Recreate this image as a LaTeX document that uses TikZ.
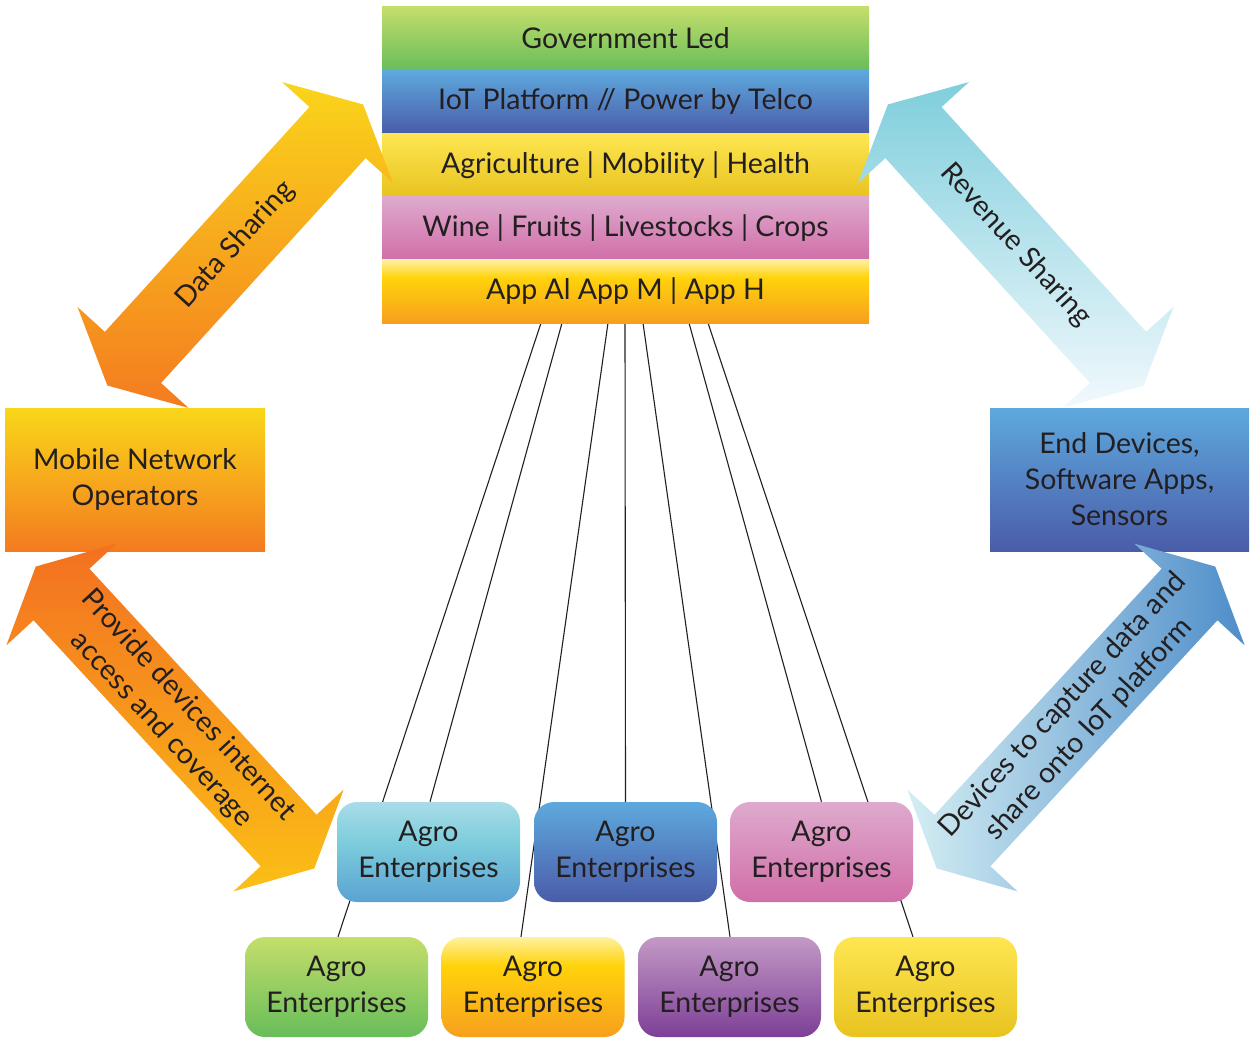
\documentclass[tikz,border=0pt]{standalone}
\usepackage{fontspec}
\setmainfont{Lato}
\usetikzlibrary{calc,backgrounds}
\definecolor{txt}{HTML}{231F20}
\definecolor{gTop}{HTML}{C4DE6B}
\definecolor{gBot}{HTML}{68BD5A}
\definecolor{bTop}{HTML}{5EA9DD}
\definecolor{bBot}{HTML}{4A5CA9}
\definecolor{yTop}{HTML}{FEE652}
\definecolor{yBot}{HTML}{E8C31F}
\definecolor{pTop}{HTML}{DEAACD}
\definecolor{pBot}{HTML}{D16EA9}
\definecolor{aTop}{HTML}{FFF1A0}
\definecolor{aMid}{HTML}{FFD30B}
\definecolor{aBot}{HTML}{F79F1D}
\definecolor{cTop}{HTML}{A9DCE7}
\definecolor{cMid}{HTML}{7DCDDC}
\definecolor{cBot}{HTML}{5AA2D3}
\definecolor{vTop}{HTML}{C399C6}
\definecolor{vBot}{HTML}{7D3F96}
\definecolor{mTop}{HTML}{F9D719}
\definecolor{mBot}{HTML}{F47B20}
\definecolor{dsTop}{HTML}{FAD51A}
\definecolor{dsBot}{HTML}{F47B20}
\definecolor{rsTop}{HTML}{7FCEDC}
\definecolor{rsBot}{HTML}{F2F9FD}
\definecolor{pdTop}{HTML}{F37021}
\definecolor{pdBot}{HTML}{FBBF16}
\definecolor{dvL}{HTML}{D4EEF3}
\definecolor{dvM}{HTML}{80CFDC}
\definecolor{dvR}{HTML}{4E8DC9}
\pgfdeclareverticalshading{appshade}{100bp}{color(0bp)=(aBot); color(25bp)=(aBot); color(61bp)=(aMid); color(75bp)=(aTop); color(100bp)=(aTop)}
\pgfdeclareverticalshading{cyanshade}{100bp}{color(0bp)=(cBot); color(25bp)=(cBot); color(55bp)=(cMid); color(75bp)=(cTop); color(100bp)=(cTop)}
\newcommand\bigfont{\fontsize{28.5}{36}\selectfont}
\newcommand\dblarrow[4]{%
  \path[#4] ($(#1)+(#2:#3)+(#2+90:38)$) -- ($(#1)+(#2:#3)+(#2+90:75)$) -- ($(#1)+(#2:#3+38)$)
   -- ($(#1)+(#2:#3)+(#2-90:75)$) -- ($(#1)+(#2:#3)+(#2-90:38)$)
   -- ($(#1)+(#2+180:#3)+(#2-90:38)$) -- ($(#1)+(#2+180:#3)+(#2-90:75)$) -- ($(#1)+(#2+180:#3+38)$)
   -- ($(#1)+(#2+180:#3)+(#2+90:75)$) -- ($(#1)+(#2+180:#3)+(#2+90:38)$) -- cycle;}
\tikzset{
  stackrow/.style={minimum width=487pt, minimum height=63.2pt, inner sep=0pt, outer sep=0pt, font=\bigfont, text=txt},
  agro/.style={rounded corners=20pt, minimum width=183pt, minimum height=100pt, inner sep=0pt, align=center, font=\bigfont, text=txt},
  sidebox/.style={minimum width=260pt, minimum height=143pt, inner sep=0pt, align=center, font=\bigfont, text=txt},
  conn/.style={draw=txt, line width=1.1pt},
  arrowtext/.style={align=center, font=\bigfont, text=txt, inner sep=0pt}
}
\begin{document}
\begin{tikzpicture}[x=1pt,y=-1pt]
\useasboundingbox (0,0) rectangle (1255,1038);
% central stack
\node[stackrow, top color=gTop, bottom color=gBot] (gov) at (625.5,38.6) {Government Led};
\node[stackrow, top color=bTop, bottom color=bBot] (iot) at (625.5,101.8) {IoT Platform // Power by Telco};
\node[stackrow, top color=yTop, bottom color=yBot] (sect) at (625.5,165) {Agriculture | Mobility | Health};
\node[stackrow, top color=pTop, bottom color=pBot] (prod) at (625.5,228.2) {Wine | Fruits | Livestocks | Crops};
\node[stackrow, shading=appshade] (app) at (625.5,291.4) {App Al App M | App H};
% side boxes
\node[sidebox, top color=mTop, bottom color=mBot] (mno) at (135,479.5) {Mobile Network\\Operators};
\node[sidebox, minimum width=259pt, top color=bTop, bottom color=bBot] (dev) at (1119.5,479.5) {End Devices,\\Software Apps,\\Sensors};
% agro enterprises
\node[agro, shading=cyanshade] (t1) at (428.5,852) {Agro\\Enterprises};
\node[agro, top color=bTop, bottom color=bBot] (t2) at (625.5,852) {Agro\\Enterprises};
\node[agro, top color=pTop, bottom color=pBot] (t3) at (821.5,852) {Agro\\Enterprises};
\node[agro, top color=gTop, bottom color=gBot] (b1) at (336.5,987) {Agro\\Enterprises};
\node[agro, shading=appshade] (b2) at (533,987) {Agro\\Enterprises};
\node[agro, top color=vTop, bottom color=vBot] (b3) at (729.5,987) {Agro\\Enterprises};
\node[agro, top color=yTop, bottom color=yBot] (b4) at (925.5,987) {Agro\\Enterprises};
% connector lines behind boxes
\begin{scope}[on background layer]
\draw[conn] ($(app.south west)+(159,0)$) -- ($(b1.north)+(1.5,0)$);
\draw[conn] ($(app.south west)+(180,0)$) -- ($(t1.north)+(1.5,0)$);
\draw[conn] ($(app.south west)+(226,0)$) -- ($(b2.north)+(-12,0)$);
\draw[conn] ($(app.south west)+(243,0)$) -- (t2.north);
\draw[conn] ($(app.south west)+(261,0)$) -- ($(b3.north)+(0.5,0)$);
\draw[conn] ($(app.south west)+(307,0)$) -- (t3.north);
\draw[conn] ($(app.south west)+(326,0)$) -- ($(b4.north)+(-12.5,0)$);
\end{scope}
% big double arrows
\coordinate (dsC) at (235.25,245);
\coordinate (rsC) at (1015.75,245);
\coordinate (pdC) at (175,717.5);
\coordinate (dvC) at (1076,717.5);
\dblarrow{dsC}{-47.7}{152}{top color=dsTop, bottom color=dsBot}
\dblarrow{rsC}{-132.3}{152}{top color=rsTop, bottom color=rsBot}
\dblarrow{pdC}{47.3}{167.4}{top color=pdTop, bottom color=pdBot}
\dblarrow{dvC}{132.7}{167.4}{left color=dvL, middle color=dvM, right color=dvR}
\node[arrowtext, rotate=47.7] (dsT) at (dsC) {Data Sharing};
\node[arrowtext, rotate=-47.7] (rsT) at (rsC) {Revenue Sharing};
\node[arrowtext, rotate=-47.3] (pdT) at (pdC) {Provide devices internet\\access and coverage};
\node[arrowtext, rotate=47.3] (dvT) at (dvC) {Devices to capture data and\\share onto IoT platform};
\end{tikzpicture}
\end{document}
